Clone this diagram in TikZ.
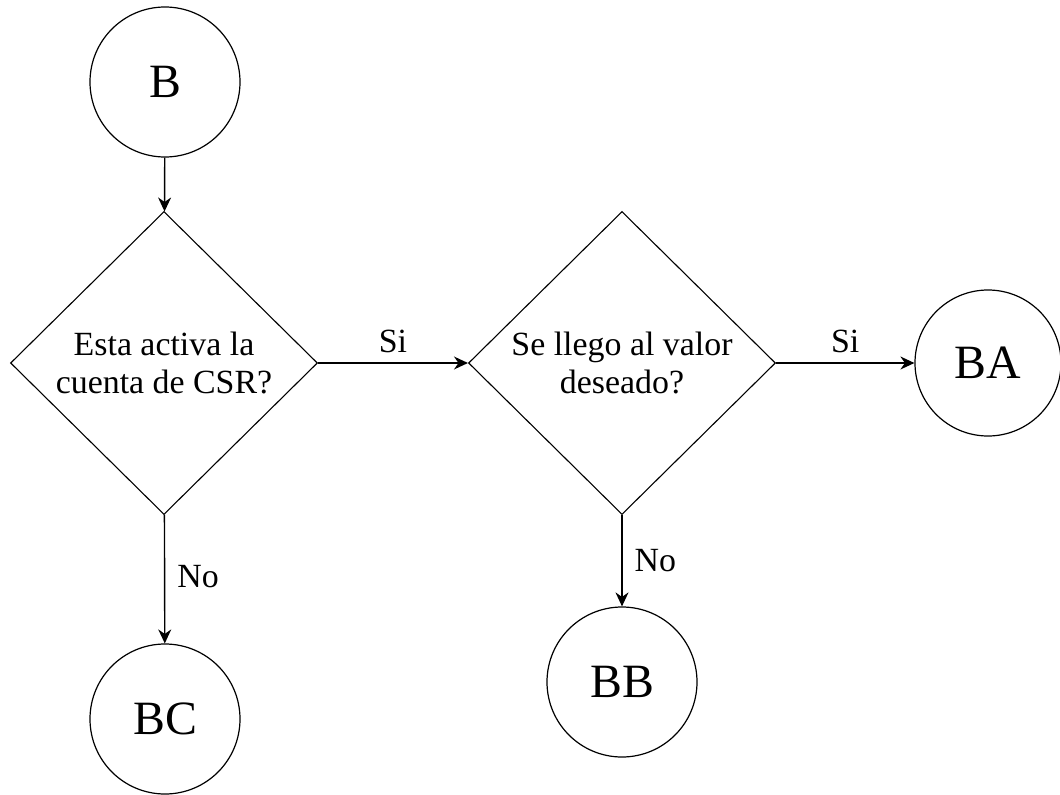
\documentclass[tikz,border=0pt]{standalone}
\usepackage{fontspec}
\setmainfont{Liberation Serif}
\usetikzlibrary{shapes.geometric,arrows.meta}
\begin{document}
\begin{tikzpicture}[x=1bp,y=-1bp,
  term/.style={circle,draw,line width=1.2bp,minimum size=150bp,inner sep=0pt,
    font=\fontsize{48}{50}\selectfont},
  decision/.style={diamond,draw,line width=1.1bp,minimum width=307bp,
    minimum height=303bp,inner sep=0pt,align=center,
    font=\fontsize{34}{39}\selectfont},
  flow/.style={-{Stealth[length=14bp,width=13bp]},line width=1.4bp},
  lbl/.style={font=\fontsize{34}{38}\selectfont,inner sep=0pt}]
\useasboundingbox (0,0) rectangle (1060,795);

% nodes
\node[term] (b) at (165,82) {B};
\node[decision] (d1) at (164,363) {Esta activa la\\cuenta de CSR?};
\node[decision] (d2) at (622,363) {Se llego al valor\\deseado?};
\node[term,minimum size=146bp] (ba) at (988,363) {BA};
\node[term] (bb) at (622,682) {BB};
\node[term] (bc) at (165,719) {BC};

% connectors
\draw[flow] (b) -- (d1);
\draw[flow] (d1) -- node[lbl,above=9bp] {Si} (d2);
\draw[flow] (d2) -- node[lbl,above=9bp] {Si} (ba);
\draw[flow] (d2) -- node[lbl,right=12bp] {No} (bb);
\draw[flow] (d1) -- node[lbl,right=12bp,yshift=2bp] {No} (bc);
\end{tikzpicture}
\end{document}
